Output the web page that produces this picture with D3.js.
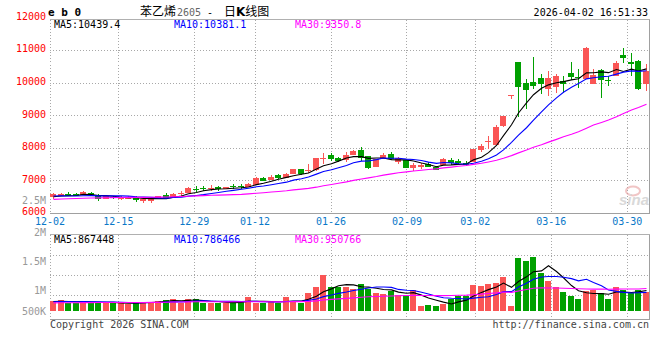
<!DOCTYPE html>
<html><head><meta charset="utf-8">
<script src="https://cdn.jsdelivr.net/npm/d3@7"></script>
<style>html,body{margin:0;padding:0;background:#fff}svg{display:block}</style>
</head><body>
<svg id="c" width="660" height="360"></svg>
<script>
// ---------------- data ----------------
const dates = ["12-02","12-03","12-04","12-05","12-08","12-09","12-10","12-11","12-12","12-15","12-16","12-17","12-18","12-19","12-22","12-23","12-24","12-25","12-26","12-29","12-30","12-31",
"01-05","01-06","01-07","01-08","01-09","01-12","01-13","01-14","01-15","01-16","01-19","01-20","01-21","01-22","01-23","01-26","01-27","01-28","01-29","01-30",
"02-02","02-03","02-04","02-05","02-06","02-09","02-10","02-11","02-12","02-13","02-24","02-25","02-26","02-27",
"03-02","03-03","03-04","03-05","03-06","03-09","03-10","03-11","03-12","03-13","03-16","03-17","03-18","03-19","03-20","03-23","03-24","03-25","03-26","03-27","03-30","03-31",
"04-01","04-02"];
const opens  = [6506,6547,6609,6588,6558,6629,6568,6445,6506,6455,6445,6496,6373,6373,6455,6578,6486,6588,6639,6752,6772,6752,6813,6752,6844,6844,6823,6875,7089,7038,7171,7100,7222,7366,7304,7335,7673,7785,7713,7642,7806,7949,7765,7437,7662,7826,7591,7632,7407,7417,7519,7437,7489,7652,7601,7550,7591,7949,8184,8112,8685,9610,10650,9995,10036,10159,9811,9892,10066,10302,10189,10118,9985,10414,10087,10230,10864,10650,10680,9985];
const highs  = [6619,6629,6660,6619,6691,6660,6598,6558,6537,6527,6537,6527,6455,6445,6547,6629,6639,6680,6813,6844,6844,6875,6844,6824,6895,6905,6946,7131,7110,7171,7202,7253,7366,7380,7519,7703,7857,7847,7744,7887,7949,8041,7780,7662,7857,7887,7744,7650,7550,7560,7570,7470,7713,7703,7683,7621,7990,8143,8379,8706,8990,9645,10650,10138,10803,10271,10373,10292,10220,10650,10425,11120,10425,10425,10220,10680,11089,10916,10700,10578];
const lows   = [6445,6547,6527,6527,6558,6537,6394,6445,6435,6414,6445,6363,6332,6332,6455,6455,6486,6517,6639,6650,6680,6701,6701,6752,6762,6752,6823,6864,6987,7028,7059,7100,7222,7171,7232,7314,7519,7611,7581,7581,7806,7621,7376,7437,7662,7650,7529,7407,7315,7376,7420,7335,7489,7499,7509,7470,7580,7877,7969,8100,8655,9504,8972,9197,9811,9657,9606,9708,9688,10097,9862,10118,9985,9545,9913,10230,10629,10220,9800,9760];
const closes = [6588,6609,6527,6547,6660,6558,6445,6527,6465,6496,6506,6414,6435,6435,6527,6476,6609,6639,6783,6721,6742,6783,6742,6813,6803,6803,6916,7100,7008,7130,7100,7202,7366,7222,7335,7703,7703,7683,7611,7806,7918,7713,7407,7662,7806,7662,7693,7407,7499,7489,7437,7335,7662,7540,7560,7489,7980,8072,8236,8665,8990,9645,9892,9790,9913,9985,10159,10220,9964,10179,10152,11069,10240,10097,10056,10630,10770,10600,9820,10377];
const volumes = [430000,470000,330000,330000,430000,330000,390000,330000,330000,330000,290000,390000,390000,390000,430000,470000,510000,330000,510000,510000,330000,330000,330000,330000,430000,390000,570000,330000,330000,400000,330000,600000,430000,330000,770000,1000000,1540000,1030000,1000000,1000000,940000,1160000,930000,770000,730000,860000,690000,690000,900000,210000,
260000,210000,300000,510000,640000,630000,1080000,1040000,1120000,1200000,1450000,190000,2250000,2120000,2290000,1620000,1280000,1018000,810000,640320,
520000,860000,870000,770000,507420,1000000,870000,760000,900000,807240];
// estimated closes / volumes of the 29 sessions before 12-02 (needed only for the moving averages)
const priorCloses = [6320,6350,6300,6340,6380,6360,6330,6390,6410,6370,6400,6420,6380,6350,6390,6430,6410,6440,6420,6490,6540,6580,6560,6570,6540,6510,6480,6520,6482];
const priorVolumes = [310000,340000,300000,320000,350000,290000,330000,310000,300000,340000,320000,360000,300000,330000,310000,290000,340000,320000,300000,330000,380000,410000,370000,390000,360000,420000,380000,400000,390000];
const dateTicks = ["12-02","12-15","12-29","01-12","01-26","02-09","03-02","03-16","03-30"];
const priceTicks = [12000,11000,10000,9000,8000,7000,6000];
const volLabelValues = [2500000,2000000,1500000,1000000,500000];
const volLabelText = ["2.5M","2M","1.5M","1M","500K"];
const maPeriods = [5,10,30];
const maColors = ["#000000","#0000ff","#ff00ff"];

// ---------------- layout ----------------
const MONO = "'DejaVu Sans Mono','Liberation Mono',monospace";
const X0 = 50, X1 = 650;
const PT = 19.5, PB = 213.5, VT = 234.5, VB = 319.5, VBASE = 311;
const UP = "#fa5555", DOWN = "#00a000", GRID = "#a8a8a8";
const n = dates.length;

const svg = d3.select("#c");
const xBand = d3.scaleBand().domain(d3.range(n)).range([X0, X1]).paddingInner(0.2).paddingOuter(0.1);
const xC = i => Math.floor(xBand(i)) + 3;
const xGrid = d3.scaleLinear().domain([0, n - 1]).range([X0, X1]);
const yP = d3.scaleLinear().domain([6000, 12000]).range([213.5, 18]);
const yV = d3.scaleLinear().domain([0, 3250000]).range([VBASE, 234]);
const yVolGrid = d3.scaleLinear().domain([0, 4]).range([315.5, 235.5]);
const yVolLabel = d3.scaleLinear().domain([500000, 1000000, 2000000, 2500000]).range([314.5, 293.5, 236.2, 204.3]);

function movingAvg(hist, vals, p) {
  const all = hist.concat(vals), off = hist.length;
  return vals.map((_, i) => d3.mean(all.slice(off + i - p + 1, off + i + 1)));
}
const priceMA = maPeriods.map(p => movingAvg(priorCloses, closes, p));
const volMA = maPeriods.map(p => movingAvg(priorVolumes, volumes, p));

const snap = v => Math.floor(v) + 0.5;
const tickIdx = dateTicks.map(d => dates.indexOf(d));

// ---------------- grids ----------------
const g = svg.append("g").attr("shape-rendering", "crispEdges");
g.selectAll(".pg").data(priceTicks.filter(v => v > 6000 && v < 12000)).join("line")
  .attr("x1", X0).attr("x2", X1).attr("y1", d => snap(yP(d))).attr("y2", d => snap(yP(d)))
  .attr("stroke", GRID).attr("stroke-dasharray", "1,2");
g.selectAll(".vg").data([1, 2, 3]).join("line")
  .attr("x1", X0).attr("x2", X1).attr("y1", d => yVolGrid(d)).attr("y2", d => yVolGrid(d))
  .attr("stroke", GRID).attr("stroke-dasharray", "1,2");
[[PT, PB], [VT, VB]].forEach(([a, b]) => {
  g.append("g").selectAll("line").data(tickIdx).join("line")
    .attr("x1", d => snap(xGrid(d))).attr("x2", d => snap(xGrid(d)))
    .attr("y1", a).attr("y2", b)
    .attr("stroke", GRID).attr("stroke-dasharray", "1,2");
});
[[PT, PB], [VT, VB]].forEach(([a, b]) => {
  g.append("line").attr("x1", X0).attr("x2", X1).attr("y1", a).attr("y2", a).attr("stroke", "#b0b0b0");
  g.append("line").attr("x1", X0).attr("x2", X1).attr("y1", b).attr("y2", b).attr("stroke", "#a0a0a0");
  g.append("line").attr("x1", X1 - 0.5).attr("x2", X1 - 0.5).attr("y1", a).attr("y2", b).attr("stroke", "#a0a0a0");
});

// watermark
const wm = svg.append("g").attr("opacity", 0.6);
wm.append("ellipse").attr("cx", 633).attr("cy", 191).attr("rx", 7).attr("ry", 4.5)
  .attr("fill", "none").attr("stroke", "#e8a0a0").attr("stroke-width", 2);
wm.append("text").attr("x", 619).attr("y", 205).attr("font-family", "Arial, 'Liberation Sans'")
  .attr("font-size", 15).attr("font-weight", "bold").attr("font-style", "italic")
  .attr("fill", "#c0c0c0").text("sina");

// ---------------- candles ----------------
const cg = svg.append("g").attr("shape-rendering", "crispEdges");
const idx = d3.range(n);
const col = i => closes[i] >= opens[i] ? UP : DOWN;
cg.selectAll(".wick").data(idx).join("line")
  .attr("x1", i => xC(i) + 0.5).attr("x2", i => xC(i) + 0.5)
  .attr("y1", i => yP(highs[i])).attr("y2", i => yP(lows[i]))
  .attr("stroke", col);
cg.selectAll(".body").data(idx).join("rect")
  .attr("x", i => Math.floor(xBand(i))).attr("width", Math.round(xBand.bandwidth()))
  .attr("y", i => yP(Math.max(opens[i], closes[i])))
  .attr("height", i => Math.max(1, yP(Math.min(opens[i], closes[i])) - yP(Math.max(opens[i], closes[i]))))
  .attr("fill", col);
cg.selectAll(".vol").data(idx).join("rect")
  .attr("x", i => Math.floor(xBand(i))).attr("width", Math.round(xBand.bandwidth()))
  .attr("y", i => yV(volumes[i])).attr("height", i => yV(0) - yV(volumes[i]))
  .attr("fill", col);

// MA lines
priceMA.forEach((ma, k) => {
  svg.append("path").datum(ma)
    .attr("d", d3.line().x((d, i) => xC(i) + 0.5).y(d => yP(d)))
    .attr("fill", "none").attr("stroke", maColors[k]).attr("stroke-width", 1.1);
});
volMA.forEach((ma, k) => {
  svg.append("path").datum(ma)
    .attr("d", d3.line().x((d, i) => xC(i) + 0.5).y(d => yV(d)))
    .attr("fill", "none").attr("stroke", maColors[k]).attr("stroke-width", 1.1);
});

// ---------------- texts ----------------
const txt = (x, y, s, fill, anchor, size, extra) => {
  const t = svg.append("text").attr("x", x).attr("y", y).attr("fill", fill)
    .attr("font-family", MONO).attr("font-size", size || 10)
    .attr("text-anchor", anchor || "start").text(s);
  if (extra) extra(t);
  return t;
};
svg.append("g").selectAll("text").data(priceTicks).join("text")
  .attr("x", 46).attr("y", d => yP(d) + 1.8).attr("text-anchor", "end")
  .attr("font-family", MONO).attr("font-size", 10).attr("fill", "#ff0000").text(d => d);
svg.append("g").selectAll("text").data(volLabelValues).join("text")
  .attr("x", 46).attr("y", d => yVolLabel(d)).attr("text-anchor", "end")
  .attr("font-family", MONO).attr("font-size", 10).attr("fill", "#999").text((d, i) => volLabelText[i]);
svg.append("g").selectAll("text").data(tickIdx).join("text")
  .attr("x", d => xGrid(d)).attr("y", 224.6).attr("text-anchor", "middle")
  .attr("font-family", MONO).attr("font-size", 10).attr("fill", "#0a78c8").text((d, i) => dateTicks[i]);

// header
txt(48, 15.5, "e b 0", "#000", "start", 11, t => t.attr("font-weight", "bold"));
const CJK = "'Noto Sans CJK SC','Noto Sans',sans-serif";
txt(140, 15.5, "苯乙烯", "#000", "start", 12, t => t.attr("font-family", CJK));
txt(177, 15.5, "2605", "#666", "start", 10);
txt(207, 15.5, "-", "#000", "start", 10);
const tt = txt(224, 15.5, "日", "#000", "start", 12, t => t.attr("font-family", CJK));
tt.append("tspan").attr("font-weight", "bold").attr("font-family", "'DejaVu Sans',sans-serif").text("K");
tt.append("tspan").text("线图");
txt(648, 15.5, "2026-04-02 16:51:33", "#000", "end", 10);

// legends
const last = n - 1;
const legX = [54, 174, 295];
maPeriods.forEach((p, k) => {
  txt(legX[k], 27.5, `MA${p}:${priceMA[k][last].toFixed(1)}`, maColors[k], "start", 10);
  txt(legX[k], 242.5, `MA${p}:${Math.round(volMA[k][last])}`, maColors[k], "start", 10);
});

// footer
txt(50, 327.5, "Copyright 2026 SINA.COM", "#444", "start", 10);
txt(649, 327.5, "http://finance.sina.com.cn", "#444", "end", 10);
</script>
</body></html>
